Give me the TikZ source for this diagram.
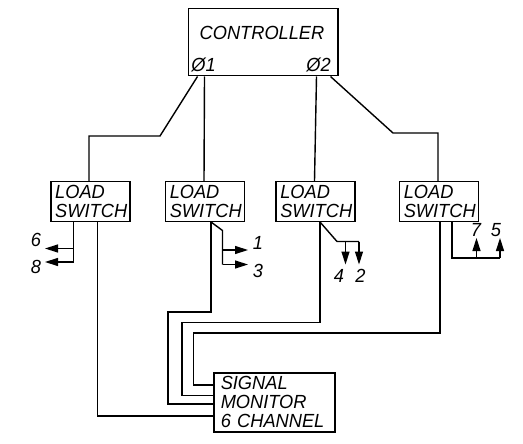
\documentclass[tikz,border=0pt]{standalone}
\usepackage{fontspec}
\setmainfont[FakeStretch=0.96]{Liberation Sans}
\usetikzlibrary{arrows.meta}
\tikzset{
  box/.style={draw,line width=1.5pt,anchor=north west,align=left,inner ysep=0pt},
  lswitch/.style={box,inner xsep=4.5pt,text width=70pt,minimum height=39.5pt},
  numlabel/.style={inner sep=0pt,font=\fontsize{19}{19}\selectfont\itshape},
  wire/.style={line width=1.4pt},
  tip/.style={wire,-{Triangle[length=13pt,width=8pt]}}
}
\begin{document}
\begin{tikzpicture}[x=1pt,y=-1pt,font=\fontsize{19}{19}\selectfont\itshape]
\path[use as bounding box] (0,0) rectangle (523,444);
\node[box,minimum width=149.5pt,minimum height=67pt] (ctrl) at (187.5,8) {};
\node[numlabel] (ctrltext) at (262,33) {CONTROLLER};
\node[numlabel] (phi1) at (203.5,65) {Ø1};
\node[numlabel] (phi2) at (318.5,65) {Ø2};
\node[lswitch] (lsa) at (50,181) {LOAD\\SWITCH};
\node[lswitch] (lsb) at (164.5,181) {LOAD\\SWITCH};
\node[lswitch] (lsc) at (275,181) {LOAD\\SWITCH};
\node[lswitch] (lsd) at (398.5,181) {LOAD\\SWITCH};
\node[box,inner xsep=7pt,text width=107pt,minimum height=59pt] (mon) at (213,372) {SIGNAL\\MONITOR\\6 CHANNEL};
% controller to load switches
\draw[wire] ([xshift=10pt]ctrl.south west) -- (160,136) -- (89,136) -- ([xshift=39pt]lsa.north west);
\draw[wire] ([xshift=17pt]ctrl.south west) -- ([xshift=39.5pt]lsb.north west);
\draw[wire] ([xshift=-22pt]ctrl.south east) -- ([xshift=39.5pt]lsc.north west);
\draw[wire] ([xshift=-8pt]ctrl.south east) -- (393,133) -- (438,133) -- ([xshift=39.5pt]lsd.north west);
% load switches to monitor
\draw[wire] ([xshift=47.5pt]lsa.south west) -- (97.5,416) -- ([yshift=-44pt]mon.north west);
\draw[wire] ([xshift=46.5pt]lsb.south west) -- (211,312) -- (168,312) -- (168,404) -- ([yshift=-32pt]mon.north west);
\draw[wire] ([xshift=45pt]lsc.south west) -- (320,322.5) -- (182,322.5) -- (182,395.5) -- ([yshift=-23.5pt]mon.north west);
\draw[wire] ([xshift=41.5pt]lsd.south west) -- (440,333) -- (193.5,333) -- (193.5,385) -- ([yshift=-13pt]mon.north west);
% outputs
\node[numlabel] (six) at (36,240) {6};
\node[numlabel] (eight) at (36,267) {8};
\node[numlabel] (one) at (258,243) {1};
\node[numlabel] (three) at (258,271) {3};
\node[numlabel] (four) at (339,276) {4};
\node[numlabel] (two) at (360.5,276) {2};
\node[numlabel] (seven) at (476,230) {7};
\node[numlabel] (five) at (496,230) {5};
\coordinate (tsix) at (45,248.5);
\coordinate (teight) at (45,262);
\coordinate (tone) at (248,250);
\coordinate (tthree) at (248,264.5);
\coordinate (tfour) at (345.5,264.5);
\coordinate (ttwo) at (359,264.5);
\coordinate (tseven) at (476.5,238);
\coordinate (tfive) at (500,238);
\draw[wire] ([xshift=23.5pt]lsa.south west) -- (73.5,262);
\draw[tip] (73.5,248.5) -- (tsix);
\draw[tip] (73.5,262) -- (teight);
\draw[wire] ([xshift=46.5pt]lsb.south west) -- (222.5,230.5) -- (222.5,264.5);
\draw[tip] (222.5,250) -- (tone);
\draw[tip] (222.5,264.5) -- (tthree);
\draw[wire] ([xshift=45pt]lsc.south west) -- (337,241.5) -- (359,241.5);
\draw[tip] (345.5,241.5) -- (tfour);
\draw[tip] (359,241.5) -- (ttwo);
\draw[wire] ([xshift=53.5pt]lsd.south west) -- (452,258) -- (500,258);
\draw[tip] (476.5,258) -- (tseven);
\draw[tip] (500,258) -- (tfive);
\end{tikzpicture}
\end{document}
